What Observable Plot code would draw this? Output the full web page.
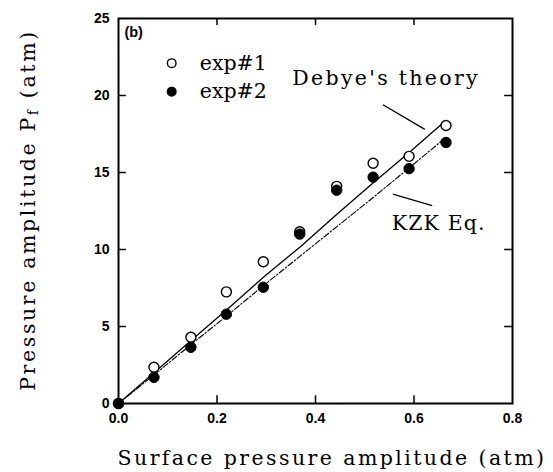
<!DOCTYPE html>
<html>
<head>
<meta charset="utf-8">
<script src="https://cdn.jsdelivr.net/npm/d3@7"></script>
<script src="https://cdn.jsdelivr.net/npm/@observablehq/plot@0.6"></script>
<style>
  html, body { margin: 0; padding: 0; background: #fff; }
</style>
</head>
<body>
<div id="chart"></div>
<script>
// ---- data ----
const surfaceP = [0, 0.072, 0.147, 0.219, 0.294, 0.368, 0.443, 0.517, 0.590, 0.665];
const exp1 = [0, 2.35, 4.3, 7.25, 9.2, 11.15, 14.1, 15.6, 16.05, 18.05];
const exp2 = [0, 1.7, 3.65, 5.8, 7.55, 11.0, 13.85, 14.7, 15.25, 16.95];
const debyeX = [0, 0.074, 0.148, 0.222, 0.296, 0.370, 0.444, 0.518, 0.592, 0.660];
const debyeY = [0, 2.05, 4.1, 6.15, 8.25, 10.2, 12.3, 14.35, 16.35, 18.25];
const kzkY   = [0, 1.9, 3.85, 5.75, 7.7, 9.6, 11.5, 13.4, 15.35, 17.15];
const xTicks = [0, 0.2, 0.4, 0.6, 0.8];
const yTicks = [0, 5, 10, 15, 20, 25];
const legendItems = [
  {label: "exp#1", filled: false, x: 0.108, y: 22.1},
  {label: "exp#2", filled: true,  x: 0.108, y: 20.25}
];
const notes = [
  {label: "Debye's theory", x: 0.353, y: 21.1, x1: 0.537, y1: 19.4, x2: 0.622, y2: 17.8},
  {label: "KZK Eq.",        x: 0.555, y: 11.7, x1: 0.557, y1: 13.6, x2: 0.637, y2: 12.85}
];
const panelTag = [{label: "(b)", x: 0.012, y: 24.1}];

const pts1 = surfaceP.map((x, i) => ({x, y: exp1[i]}));
const pts2 = surfaceP.map((x, i) => ({x, y: exp2[i]}));
const debye = debyeX.map((x, i) => ({x, y: debyeY[i]}));
const kzk = debyeX.map((x, i) => ({x, y: kzkY[i]}));

const W = 553, H = 472;
const serif = "DejaVu Serif, Liberation Serif, serif";
const sans = "Liberation Sans, Arial, sans-serif";
const CHAR_W = 13.4; // typewriter pitch of the original lettering
const SERIF_SIZE = 20.5;

const plot = Plot.plot({
  width: W, height: H,
  marginLeft: 118, marginRight: 41, marginTop: 18, marginBottom: 69,
  x: {domain: [0, 0.8]},
  y: {domain: [0, 25]},
  style: {background: "#fff", color: "#000"},
  marks: [
    Plot.axisX({ticks: xTicks, tickSize: 0, tickPadding: 10, tickFormat: d3.format(".1f"),
      fontSize: 14, fontWeight: "bold", fontFamily: sans, label: null}),
    Plot.axisY({ticks: yTicks, tickSize: 0, tickPadding: 9, tickFormat: d3.format("d"),
      fontSize: 14, fontWeight: "bold", fontFamily: sans, label: null}),
    // inward ticks
    Plot.ruleX(xTicks.slice(1, -1), {x: d => d, y1: 0, y2: 0.5, stroke: "#000", strokeWidth: 1.5}),
    Plot.ruleX(xTicks.slice(1, -1), {x: d => d, y1: 24.55, y2: 25, stroke: "#000", strokeWidth: 1.5}),
    Plot.ruleY(yTicks.slice(1, -1), {y: d => d, x1: 0, x2: 0.016, stroke: "#000", strokeWidth: 1.5}),
    Plot.ruleY(yTicks.slice(1, -1), {y: d => d, x1: 0.784, x2: 0.8, stroke: "#000", strokeWidth: 1.5}),
    Plot.frame({stroke: "#000", strokeWidth: 2}),
    // theory lines
    Plot.line(debye, {x: "x", y: "y", stroke: "#000", strokeWidth: 1.3}),
    Plot.line(kzk, {x: "x", y: "y", stroke: "#000", strokeWidth: 1.1, strokeDasharray: "6,2,1.5,2"}),
    // data
    Plot.dot(pts1, {x: "x", y: "y", r: 5, fill: "#fff", stroke: "#000", strokeWidth: 1.4}),
    Plot.dot(pts2, {x: "x", y: "y", r: 5.2, fill: "#000", stroke: "#000", strokeWidth: 1}),
    // legend
    Plot.dot(legendItems, {x: "x", y: "y", r: 4.3, fill: d => d.filled ? "#000" : "#fff", stroke: "#000", strokeWidth: 1.4}),
    Plot.text(legendItems, {x: d => d.x + 0.057, y: "y", text: "label", textAnchor: "start",
      fontFamily: serif, fontSize: SERIF_SIZE, fill: "#000"}),
    // annotations
    Plot.text(notes, {x: "x", y: "y", text: "label", textAnchor: "start",
      fontFamily: serif, fontSize: SERIF_SIZE, fill: "#000"}),
    Plot.link(notes, {x1: "x1", y1: "y1", x2: "x2", y2: "y2", stroke: "#000", strokeWidth: 1.3}),
    Plot.text(panelTag, {x: "x", y: "y", text: "label", textAnchor: "start",
      fontFamily: sans, fontWeight: "bold", fontSize: 14.5, fill: "#000"})
  ]
});

const svg = d3.select(plot);
svg.append("text")
  .attr("class", "serifLabel")
  .attr("x", 332).attr("y", 459)
  .attr("text-anchor", "middle").attr("dominant-baseline", "middle")
  .attr("font-family", serif).attr("font-size", SERIF_SIZE)
  .attr("fill", "#000")
  .text("Surface pressure amplitude (atm)");

const yl = svg.append("text")
  .attr("class", "serifLabel")
  .attr("transform", "translate(29,210) rotate(-90)")
  .attr("text-anchor", "middle").attr("dominant-baseline", "middle")
  .attr("font-family", serif).attr("font-size", SERIF_SIZE)
  .attr("fill", "#000");
yl.append("tspan").text("Pressure amplitude P");
yl.append("tspan").attr("font-size", 14).attr("dy", 5).text("f");
yl.append("tspan").attr("dy", -5).text(" (atm)");

document.getElementById("chart").appendChild(plot);

// spread the serif lettering to the typewriter pitch of the original
const serifTexts = [];
svg.selectAll("g[font-family] text").each(function () {
  const fam = this.parentNode.getAttribute("font-family") || "";
  if (fam.indexOf("DejaVu Serif") >= 0) serifTexts.push(this);
});
svg.selectAll("text.serifLabel").each(function () { serifTexts.push(this); });
serifTexts.forEach(el => {
  const n = el.textContent.length;
  const natural = el.getComputedTextLength();
  const ls = Math.max(0, (n * CHAR_W - natural) / n);
  el.setAttribute("letter-spacing", ls.toFixed(2));
});
</script>
</body>
</html>
